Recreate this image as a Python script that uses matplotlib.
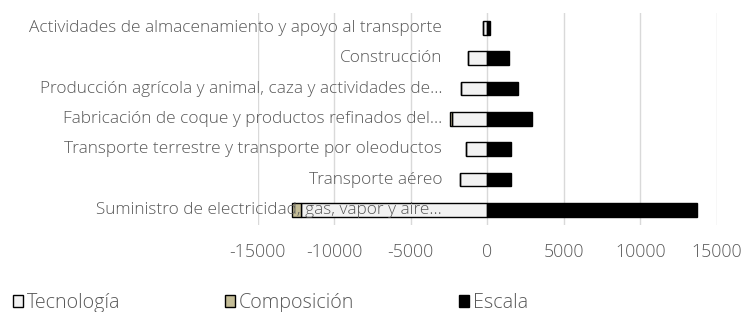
import matplotlib.pyplot as plt
from matplotlib.patches import Patch

# sectores (de arriba hacia abajo) y descomposición de emisiones
sectores = [
    'Actividades de almacenamiento y apoyo al transporte',
    'Construcción',
    'Producción agrícola y animal, caza y actividades de...',
    'Fabricación de coque y productos refinados del...',
    'Transporte terrestre y transporte por oleoductos',
    'Transporte aéreo',
    'Suministro de electricidad, gas, vapor y aire...',
]
tecnologia = [-250, -1240, -1720, -2330, -1390, -1785, -12180]
composicion = [0, 0, 0, -120, 0, 0, -550]
escala = [180, 1435, 2025, 2930, 1545, 1545, 13710]
xticks = [-15000, -10000, -5000, 0, 5000, 10000, 15000]

text_color = '#595959'
plt.rcParams['font.family'] = ['Open Sans', 'DejaVu Sans']
plt.rcParams['font.weight'] = 'light'

fig = plt.figure(figsize=(7.42, 3.12), dpi=100)
ax = fig.add_axes([257.5 / 742, 1 - 225 / 312, (717 - 257.5) / 742, (225 - 12.7) / 312])

y = list(range(len(sectores)))
h = 0.45
ax.barh(y, tecnologia, height=h, color='#f2f2f2', edgecolor='black', linewidth=1, zorder=3)
ax.barh(y, composicion, left=tecnologia, height=h, color='#c4bd97', edgecolor='black',
        linewidth=1, zorder=3)
ax.barh(y, escala, height=h, color='black', edgecolor='black', linewidth=1, zorder=3)

ax.set_xlim(-15000, 15000)
ax.set_ylim(len(sectores) - 0.5, -0.5)
ax.set_xticks(xticks)
ax.set_xticklabels([str(v) for v in xticks])
ax.set_yticks([])

# etiquetas junto al eje en x=0, por encima de las barras
for i, nombre in enumerate(sectores):
    ax.annotate(nombre, (0, i), xytext=(-32.4, 0), textcoords='offset points',
                ha='right', va='center', fontsize=12.4, color=text_color, zorder=5)

for s in ['left', 'right', 'top', 'bottom']:
    ax.spines[s].set_visible(False)
ax.tick_params(axis='x', length=0, pad=13, labelsize=12.8, labelcolor=text_color)
ax.grid(axis='x', color='#d9d9d9', linewidth=1, zorder=0)
ax.set_axisbelow(True)

handles = [
    Patch(facecolor='#f2f2f2', edgecolor='black', label='Tecnología'),
    Patch(facecolor='#c4bd97', edgecolor='black', label='Composición'),
    Patch(facecolor='black', edgecolor='black', label='Escala'),
]
leg = fig.legend(handles=handles, loc='center left', bbox_to_anchor=(12.7 / 742, 1 - 303 / 312),
                 ncol=3, frameon=False, fontsize=14.2, handlelength=0.52, handleheight=0.52,
                 handletextpad=0.2, columnspacing=5.3, borderaxespad=0, borderpad=0)
for t in leg.get_texts():
    t.set_color(text_color)

fig.savefig('out.png', dpi=100)
